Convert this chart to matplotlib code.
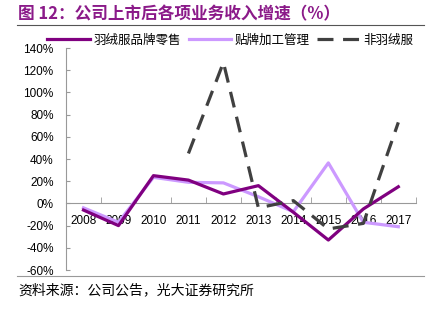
import numpy as np
import matplotlib
matplotlib.use("Agg")
import matplotlib.pyplot as plt
from matplotlib.ticker import FuncFormatter, MultipleLocator

plt.rcParams['font.family'] = ['Liberation Sans', 'Noto Sans CJK SC', 'DejaVu Sans']

# data (%)
years = ['2008', '2009', '2010', '2011', '2012', '2013', '2014', '2015', '2016', '2017']
brand_retail = [-6, -20, 25, 21, 8.5, 16, -8, -33, -5, 15]
oem_mgmt = [-4, -17, 23.5, 19, 18.5, 6, -7.5, 36.5, -17, -21]
non_down = [np.nan, np.nan, np.nan, 45, 127, -4, 2.5, -23, -18, 73]

labels = ['羽绒服品牌零售', '贴牌加工管理', '非羽绒服']
colors = ['#800080', '#CC99FF', '#404040']

fig = plt.figure(figsize=(4.3, 3.12), dpi=100)
ax = fig.add_axes([0.1535, 0.1346, 0.8135, 0.7115])

x = np.arange(len(years))
ax.plot(x, brand_retail, color=colors[0], lw=2.3, label=labels[0], zorder=3)
ax.plot(x, oem_mgmt, color=colors[1], lw=2.3, label=labels[1], zorder=2)
ax.plot(x, non_down, color=colors[2], lw=2.3, ls=(0, (5, 3)), label=labels[2], zorder=4)

ax.set_xlim(-0.5, 9.5)
ax.set_ylim(-60, 140)
ax.yaxis.set_major_locator(MultipleLocator(20))
ax.yaxis.set_major_formatter(FuncFormatter(lambda v, p: '%d%%' % v))

for s in ['top', 'right']:
    ax.spines[s].set_visible(False)
ax.spines['left'].set_color('#999999')
ax.spines['bottom'].set_color('#999999')
ax.spines['bottom'].set_position(('data', 0))
ax.spines['bottom'].set_zorder(1)

ax.set_xticks(x)
ax.set_xticklabels(years)
ax.set_xticks(np.arange(-0.5, 10, 1), minor=True)
ax.tick_params(axis='x', which='major', length=0, pad=8, labelsize=8.5)
ax.tick_params(axis='x', which='minor', direction='in', length=4, color='#999999')
ax.tick_params(axis='y', direction='in', length=3, color='#999999', labelsize=8.5, pad=9)

leg = ax.legend(loc='lower center', bbox_to_anchor=(0.47, 0.955), ncol=3, frameon=False,
                handlelength=3.4, columnspacing=0.6, handletextpad=0.3,
                prop={'family': ['Noto Sans CJK SC'], 'size': 9})

fig.text(0.042, 0.955, '图 12：公司上市后各项业务收入增速（%）', color='#8B1A89',
         fontsize=12, fontweight='bold', family=['Noto Sans CJK SC'], va='center')
fig.add_artist(plt.Line2D([0.04, 0.985], [0.92, 0.92], color='#555555', lw=0.8))
fig.add_artist(plt.Line2D([0.04, 0.985], [0.115, 0.115], color='#999999', lw=0.8))
fig.text(0.042, 0.07, '资料来源：公司公告，光大证券研究所', fontsize=10,
         family=['Noto Sans CJK SC'], va='center')

fig.savefig('out.png', dpi=100)
